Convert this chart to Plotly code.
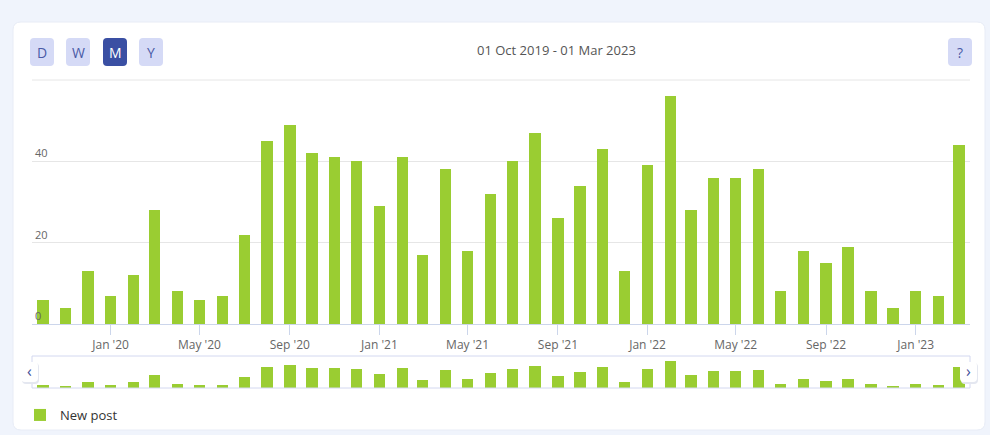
import plotly.graph_objects as go

# ---- data ----
months = [
    "2019-10-01", "2019-11-01", "2019-12-01",
    "2020-01-01", "2020-02-01", "2020-03-01", "2020-04-01", "2020-05-01", "2020-06-01",
    "2020-07-01", "2020-08-01", "2020-09-01", "2020-10-01", "2020-11-01", "2020-12-01",
    "2021-01-01", "2021-02-01", "2021-03-01", "2021-04-01", "2021-05-01", "2021-06-01",
    "2021-07-01", "2021-08-01", "2021-09-01", "2021-10-01", "2021-11-01", "2021-12-01",
    "2022-01-01", "2022-02-01", "2022-03-01", "2022-04-01", "2022-05-01", "2022-06-01",
    "2022-07-01", "2022-08-01", "2022-09-01", "2022-10-01", "2022-11-01", "2022-12-01",
    "2023-01-01", "2023-02-01", "2023-03-01",
]
new_post = [
    6, 4, 13,
    7, 12, 28, 8, 6, 7,
    22, 45, 49, 42, 41, 40,
    29, 41, 17, 38, 18, 32,
    40, 47, 26, 34, 43, 13,
    39, 56, 28, 36, 36, 38,
    8, 18, 15, 19, 8, 4,
    8, 7, 44,
]
tick_vals = ["2020-01-01", "2020-05-01", "2020-09-01", "2021-01-01", "2021-05-01",
             "2021-09-01", "2022-01-01", "2022-05-01", "2022-09-01", "2023-01-01"]
tick_text = ["Jan '20", "May '20", "Sep '20", "Jan '21", "May '21",
             "Sep '21", "Jan '22", "May '22", "Sep '22", "Jan '23"]
y_ticks = [0, 20, 40, 60]
y_tick_text = ["0", "20", "40", ""]
range_buttons = ["D", "W", "M", "Y"]
active_button = "M"
date_range_text = "01 Oct 2019 - 01 Mar 2023"
series_name = "New post"

# ---- styling ----
W, H = 990, 435
PL, PR, PT, PB = 32, 970, 79, 425
GREEN = "#9ACD32"
FONT = "Open Sans"
AXIS_BLUE = "#ccd6eb"


def X(px):
    return (px - PL) / (PR - PL)


def Y(py):
    return (PB - py) / (PB - PT)


def rrect(x0, y0, x1, y1, r):
    return (f"M {X(x0+r)},{Y(y0)} L {X(x1-r)},{Y(y0)} Q {X(x1)},{Y(y0)} {X(x1)},{Y(y0+r)} "
            f"L {X(x1)},{Y(y1-r)} Q {X(x1)},{Y(y1)} {X(x1-r)},{Y(y1)} "
            f"L {X(x0+r)},{Y(y1)} Q {X(x0)},{Y(y1)} {X(x0)},{Y(y1-r)} "
            f"L {X(x0)},{Y(y0+r)} Q {X(x0)},{Y(y0)} {X(x0+r)},{Y(y0)} Z")


bar_width_ms = 15.5 * 86400000

fig = go.Figure()
fig.add_trace(go.Bar(
    x=months, y=new_post, name=series_name, marker_color=GREEN, marker_line_width=0,
    width=bar_width_ms, xaxis="x", yaxis="y", showlegend=True, hoverinfo="x+y",
))
fig.add_trace(go.Bar(
    x=months, y=new_post, name=series_name, marker_color=GREEN, marker_line_width=0,
    width=bar_width_ms, xaxis="x2", yaxis="y2", showlegend=False, hoverinfo="skip",
))

x_range = ["2019-09-16", "2023-03-16"]

shapes = []
# card
shapes.append(dict(type="path", xref="paper", yref="paper", layer="below",
                   path=rrect(13, 22, 985, 430, 8), fillcolor="white",
                   line=dict(color="#e8ecf6", width=1)))
# top grid line (60)
shapes.append(dict(type="line", xref="paper", yref="paper", layer="below",
                   x0=0, x1=1, y0=Y(80), y1=Y(80), line=dict(color="#e6e6e6", width=1)))
# navigator outline
shapes.append(dict(type="rect", xref="paper", yref="paper", layer="above",
                   x0=X(32), x1=X(970), y0=Y(388), y1=Y(356),
                   line=dict(color="#d3d8f0", width=1), fillcolor="rgba(0,0,0,0)"))

annotations = []
# range selector buttons
btn_x = {"D": 30, "W": 66, "M": 103, "Y": 139}
for b in range_buttons:
    x0 = btn_x[b]
    active = (b == active_button)
    shapes.append(dict(type="path", xref="paper", yref="paper", layer="above",
                       path=rrect(x0, 38, x0 + 24, 66, 4),
                       fillcolor="#3a4fa3" if active else "#d5daf6",
                       line=dict(width=0)))
    annotations.append(dict(xref="paper", yref="paper", x=X(x0 + 12), y=Y(52),
                            text=b, showarrow=False, xanchor="center", yanchor="middle",
                            font=dict(family=FONT, size=14,
                                      color="white" if active else "#4a5aa6")))
# help button
shapes.append(dict(type="path", xref="paper", yref="paper", layer="above",
                   path=rrect(948, 38, 972, 66, 4), fillcolor="#d5daf6", line=dict(width=0)))
annotations.append(dict(xref="paper", yref="paper", x=X(960), y=Y(52), text="?",
                        showarrow=False, xanchor="center", yanchor="middle",
                        font=dict(family=FONT, size=14, color="#4a5aa6")))
# date range text
annotations.append(dict(xref="paper", yref="paper", x=X(556), y=Y(50), text=date_range_text,
                        showarrow=False, xanchor="center", yanchor="middle",
                        font=dict(family=FONT, size=13, color="#555555")))
# navigator arrow buttons
for (x0, ch) in [(21, "‹"), (960, "›")]:
    shapes.append(dict(type="path", xref="paper", yref="paper", layer="above",
                       path=rrect(x0 + 1, 363, x0 + 18, 384, 4), fillcolor="#e4e7f0",
                       line=dict(width=0)))
    shapes.append(dict(type="path", xref="paper", yref="paper", layer="above",
                       path=rrect(x0, 362, x0 + 17, 382, 4), fillcolor="white",
                       line=dict(width=0)))
    annotations.append(dict(xref="paper", yref="paper", x=X(x0 + 8.5), y=Y(371), text=ch,
                            showarrow=False, xanchor="center", yanchor="middle",
                            font=dict(family=FONT, size=16, color="#3f4f9a")))

fig.update_layout(
    width=W, height=H,
    margin=dict(l=PL, r=W - PR, t=PT, b=H - PB, pad=0, autoexpand=False),
    paper_bgcolor="#f0f4fc",
    plot_bgcolor="rgba(0,0,0,0)",
    font=dict(family=FONT, color="#666666"),
    bargap=0,
    shapes=shapes,
    annotations=annotations,
    showlegend=True,
    legend=dict(orientation="h", x=X(20), y=Y(400), xanchor="left", yanchor="top",
                font=dict(family=FONT, size=13, color="#333333"),
                bgcolor="rgba(0,0,0,0)", itemwidth=30),
    xaxis=dict(
        domain=[0, 1], anchor="y", type="date", range=x_range,
        tickvals=tick_vals, ticktext=tick_text, tickangle=0,
        ticks="outside", ticklen=10, tickcolor=AXIS_BLUE, tickwidth=1,
        showline=True, linecolor=AXIS_BLUE, linewidth=1,
        showgrid=False, zeroline=False, automargin=False,
        tickfont=dict(family=FONT, size=12, color="#666666"),
    ),
    yaxis=dict(
        domain=[Y(324), 1], anchor="x", range=[0, 60 * (324 - PT) / (324 - 80)],
        tickvals=y_ticks, ticktext=y_tick_text,
        ticklabelposition="inside top", ticks="",
        showgrid=True, gridcolor="#e6e6e6", gridwidth=1,
        zeroline=False, showline=False, automargin=False,
        tickfont=dict(family=FONT, size=11, color="#666666"),
    ),
    xaxis2=dict(
        domain=[0, 1], anchor="y2", type="date", range=x_range,
        showticklabels=False, ticks="", showgrid=False, zeroline=False, showline=False,
    ),
    yaxis2=dict(
        domain=[Y(388), Y(356)], anchor="x2", range=[0, 67],
        showticklabels=False, ticks="", showgrid=False, zeroline=False, showline=False,
    ),
)

fig.write_html("out.html", config={"displayModeBar": False},
               post_script="document.body.style.margin='0';")
